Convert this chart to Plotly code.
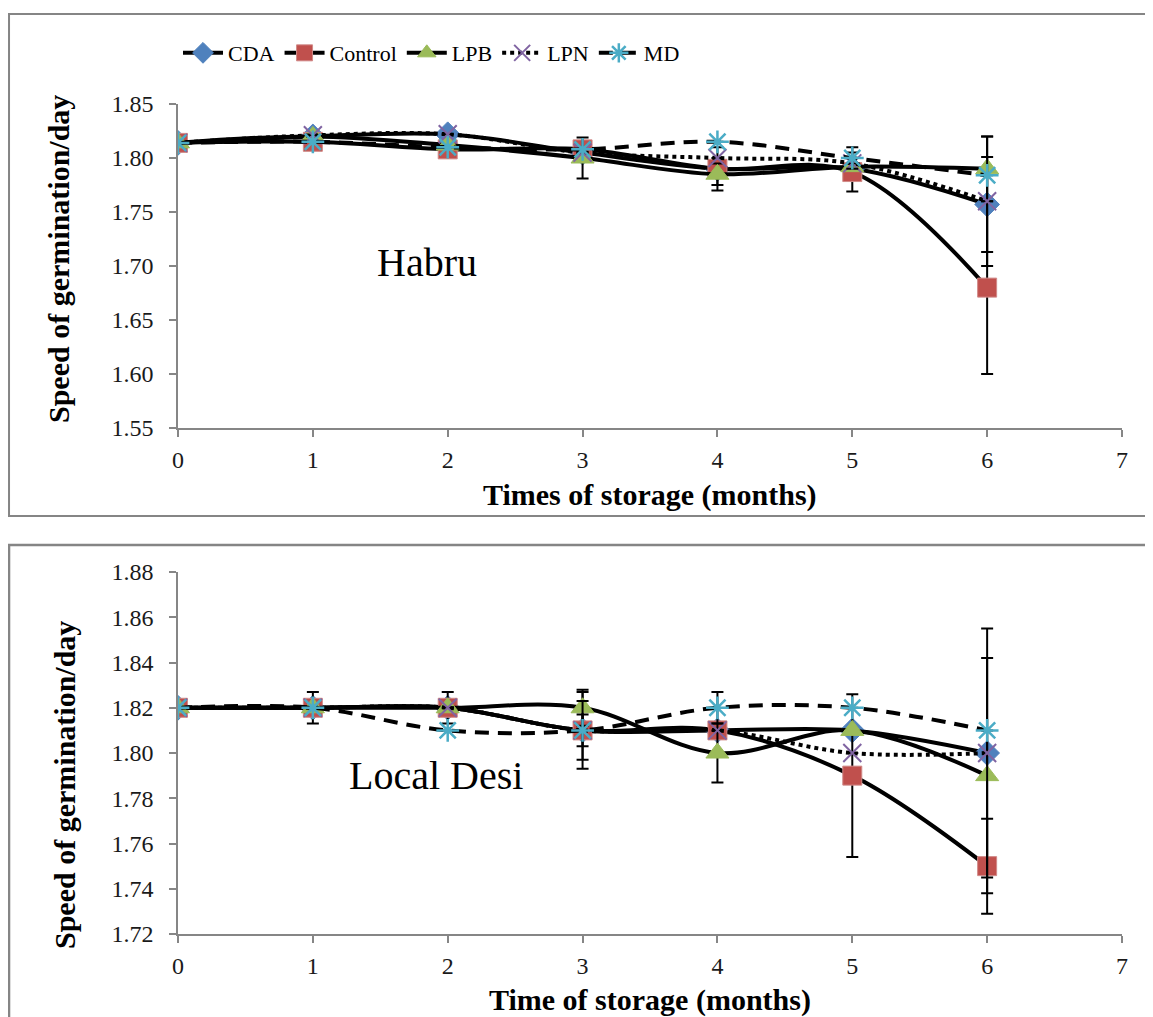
import plotly.graph_objects as go

months = [0, 1, 2, 3, 4, 5, 6]
series_names = ["CDA", "Control", "LPB", "LPN", "MD"]

# Habru (top panel)
habru_cda = [1.814, 1.820, 1.822, 1.805, 1.790, 1.790, 1.757]
habru_control = [1.814, 1.815, 1.808, 1.808, 1.790, 1.787, 1.680]
habru_lpb = [1.814, 1.820, 1.812, 1.800, 1.785, 1.792, 1.790]
habru_lpn = [1.814, 1.821, 1.822, 1.805, 1.800, 1.795, 1.760]
habru_md = [1.814, 1.815, 1.810, 1.808, 1.815, 1.800, 1.784]

habru_cda_err = [None, None, None, None, None, None, 0.044]
habru_control_err = [None, None, None, None, 0.020, 0.018, 0.080]
habru_lpb_err = [None, None, None, 0.019, 0.010, None, 0.030]
habru_lpn_err = [None, None, None, None, None, None, 0.060]
habru_md_err = [None, None, None, None, None, 0.010, None]

# Local Desi (bottom panel)
desi_cda = [1.82, 1.82, 1.82, 1.81, 1.81, 1.81, 1.80]
desi_control = [1.82, 1.82, 1.82, 1.81, 1.81, 1.79, 1.75]
desi_lpb = [1.82, 1.82, 1.82, 1.82, 1.80, 1.81, 1.79]
desi_lpn = [1.82, 1.82, 1.82, 1.81, 1.81, 1.80, 1.80]
desi_md = [1.82, 1.82, 1.81, 1.81, 1.82, 1.82, 1.81]

desi_cda_err = [None, None, None, None, None, None, None]
desi_control_err = [None, 0.007, 0.007, 0.017, None, 0.036, 0.021]
desi_lpb_err = [None, None, None, 0.008, 0.013, None, 0.052]
desi_lpn_err = [None, None, None, 0.013, None, None, 0.055]
desi_md_err = [None, None, None, 0.007, 0.007, None, None]

habru_vals = [habru_cda, habru_control, habru_lpb, habru_lpn, habru_md]
habru_errs = [habru_cda_err, habru_control_err, habru_lpb_err, habru_lpn_err, habru_md_err]
desi_vals = [desi_cda, desi_control, desi_lpb, desi_lpn, desi_md]
desi_errs = [desi_cda_err, desi_control_err, desi_lpb_err, desi_lpn_err, desi_md_err]

styles = {
    "CDA": dict(dash="solid", marker=dict(symbol="diamond", size=19, color="#4F81BD",
                                          line=dict(color="#4F81BD", width=1))),
    "Control": dict(dash="solid", marker=dict(symbol="square", size=19, color="#C0504D",
                                              line=dict(color="#D08A88", width=1))),
    "LPB": dict(dash="solid", marker=dict(symbol="triangle-up", size=20, color="#9BBB59",
                                          line=dict(color="#9BBB59", width=1))),
    "LPN": dict(dash="dot", marker=dict(symbol="x-thin-open", size=18, color="#8064A2",
                                        line=dict(color="#8064A2", width=2))),
    "MD": dict(dash="14px,9px", marker=dict(symbol="asterisk-open", size=19, color="#4BACC6",
                                            line=dict(color="#4BACC6", width=2.5))),
}

SERIF = "Times New Roman"
fig = go.Figure()

for panel, (vals, errs) in enumerate([(habru_vals, habru_errs), (desi_vals, desi_errs)]):
    xa = "x" if panel == 0 else "x2"
    ya = "y" if panel == 0 else "y2"
    for name, v, e in zip(series_names, vals, errs):
        st = styles[name]
        fig.add_trace(go.Scatter(
            x=months, y=v, name=name, mode="lines+markers",
            line=dict(color="black", width=4, dash=st["dash"], shape="spline"),
            marker=st["marker"],
            error_y=dict(type="data", array=e, visible=True, color="black",
                         thickness=2, width=6),
            showlegend=(panel == 0), legendgroup=name,
            xaxis=xa, yaxis=ya,
        ))

axis_common = dict(showgrid=False, zeroline=False, showline=True, linecolor="#868686",
                   linewidth=1.5, ticks="outside", ticklen=7, tickcolor="#868686",
                   tickwidth=1.5, tickfont=dict(family=SERIF, size=24, color="#1a1a1a"))

# page has an 8px body margin: figure is 8px smaller than the window
fig.update_layout(
    width=1145, height=1009,
    margin=dict(l=170, r=31, t=96, b=83),
    font=dict(family=SERIF, color="black"),
    paper_bgcolor="white", plot_bgcolor="white",
    xaxis=dict(range=[0, 7], dtick=1, tick0=0, anchor="y", domain=[0, 1],
               ticklabelstandoff=2, **axis_common),
    yaxis=dict(range=[1.55, 1.85], dtick=0.05, tick0=1.55, tickformat=".2f",
               domain=[0.6096, 1], anchor="x", ticklabelstandoff=11, **axis_common),
    xaxis2=dict(range=[0, 7], dtick=1, tick0=0, anchor="y2", domain=[0, 1],
                ticklabelstandoff=2, **axis_common),
    yaxis2=dict(range=[1.72, 1.88], dtick=0.02, tick0=1.72, tickformat=".2f",
                domain=[0, 0.4361], anchor="x2", ticklabelstandoff=11, **axis_common),
    legend=dict(orientation="h", x=0.0, y=1.0614, xanchor="left", yanchor="middle",
                font=dict(family=SERIF, size=22, color="black"),
                bgcolor="rgba(0,0,0,0)", itemwidth=40),
    showlegend=True,
)

# panel borders
fig.add_shape(type="rect", xref="paper", yref="paper", x0=-0.179, x1=1.05, y0=0.5036, y1=1.1084,
              line=dict(color="#858585", width=2), fillcolor="rgba(0,0,0,0)", layer="below")
fig.add_shape(type="rect", xref="paper", yref="paper", x0=-0.179, x1=1.05, y0=-0.12, y1=0.4687,
              line=dict(color="#858585", width=2.5), fillcolor="rgba(0,0,0,0)", layer="below")

title_font = dict(family=SERIF, size=30, color="black")
anns = [
    dict(text="<b>Times of storage (months)</b>", x=0.5, y=(934 - 495) / 830, xref="paper", yref="paper",
         showarrow=False, font=title_font, xanchor="center", yanchor="middle"),
    dict(text="<b>Time of storage (months)</b>", x=0.5, y=(934 - 1000) / 830, xref="paper", yref="paper",
         showarrow=False, font=title_font, xanchor="center", yanchor="middle"),
    dict(text="<b>Speed of germination/day</b>", x=(58 - 178) / 944, y=(934 - 259) / 830,
         xref="paper", yref="paper", showarrow=False, font=title_font, textangle=-90,
         xanchor="center", yanchor="middle"),
    dict(text="<b>Speed of germination/day</b>", x=(64 - 178) / 944, y=(934 - 785) / 830,
         xref="paper", yref="paper", showarrow=False, font=title_font, textangle=-90,
         xanchor="center", yanchor="middle"),
    dict(text="Habru", x=1.846, y=1.703, xref="x", yref="y", showarrow=False,
         font=dict(family=SERIF, size=40, color="black"), xanchor="center", yanchor="middle"),
    dict(text="Local Desi", x=1.913, y=1.790, xref="x2", yref="y2", showarrow=False,
         font=dict(family=SERIF, size=40, color="black"), xanchor="center", yanchor="middle"),
]
fig.update_layout(annotations=anns)

fig.write_html("out.html")
